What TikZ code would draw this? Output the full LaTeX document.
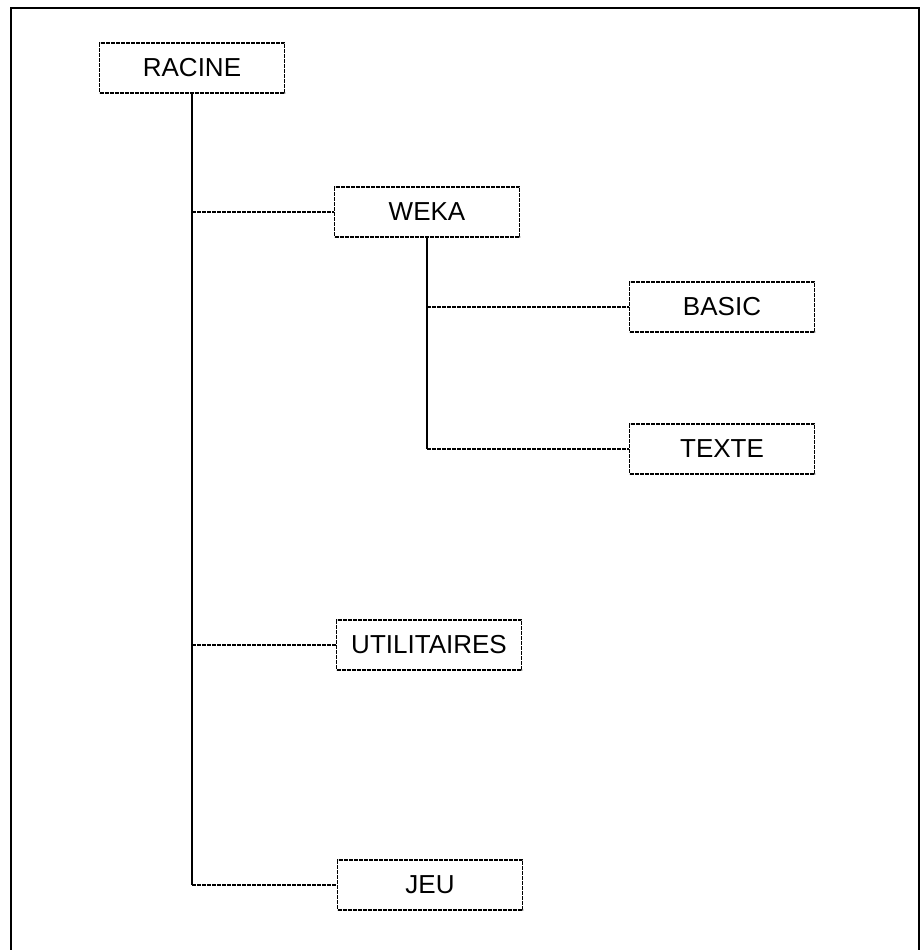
\documentclass[tikz,border=0pt]{standalone}
\usepackage{fontspec}
\setmainfont{Liberation Sans}
\usetikzlibrary{calc}

\begin{document}
\begin{tikzpicture}[x=1pt,y=-1pt,
  dir/.style={draw,line width=1.5pt,dash pattern=on 4pt off 1pt,
    minimum width=185pt,minimum height=50pt,inner sep=0pt,
    font=\fontsize{26}{30}\selectfont},
  trunk/.style={line width=1.8pt},
  branch/.style={line width=1.5pt,dash pattern=on 4pt off 1pt}]
\useasboundingbox (0,0) rectangle (923,950);

% cadre
\draw[line width=1.6pt] (11,950) -- (11,8) -- (919,8) -- (919,950);

\node[dir] (racine) at (192,68) {RACINE};
\node[dir] (weka) at (427,212) {WEKA};
\node[dir] (basic) at (722,307) {BASIC};
\node[dir] (texte) at (722,449) {TEXTE};
\node[dir] (util) at (429,645) {UTILITAIRES};
\node[dir] (jeu) at (430,885) {JEU};

\draw[trunk] (racine.south) -- (racine.south |- jeu.west);
\draw[trunk] (weka.south) -- (weka.south |- texte.west);

\draw[branch] (racine.south |- weka.west) -- (weka.west);
\draw[branch] (racine.south |- util.west) -- (util.west);
\draw[branch] (racine.south |- jeu.west) -- (jeu.west);
\draw[branch] (weka.south |- basic.west) -- (basic.west);
\draw[branch] (weka.south |- texte.west) -- (texte.west);

\end{tikzpicture}
\end{document}
